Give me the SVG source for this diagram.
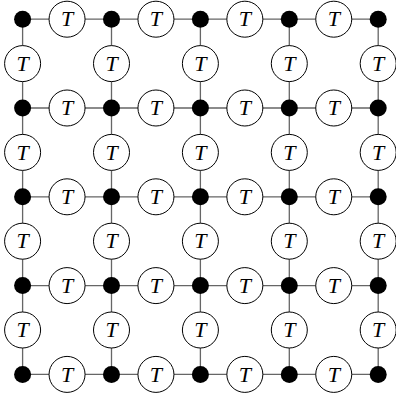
<svg xmlns="http://www.w3.org/2000/svg" width="396" height="399" viewBox="0 0 396 399">
<style>
.ln{stroke:#666;stroke-width:1.3;fill:none}
.dot{fill:#000}
.t circle{fill:#fff;stroke:#000;stroke-width:1}
.t text{font-family:"Liberation Serif","DejaVu Serif",serif;font-style:italic;font-size:22px;text-anchor:middle}
</style>
<rect width="396" height="399" fill="#fff"/>
<g id="connectors" class="ln">
<path d="M22.6 19.2H378.2M22.6 108H378.2M22.6 196.8H378.2M22.6 285.6H378.2M22.6 374.4H378.2"/>
<path d="M22.6 19.2V374.4M111.5 19.2V374.4M200.4 19.2V374.4M289.3 19.2V374.4M378.2 19.2V374.4"/>
</g>
<g id="dots">
<circle id="v00" class="dot" cx="22.6" cy="19.2" r="8.5"/>
<circle id="v10" class="dot" cx="111.5" cy="19.2" r="8.5"/>
<circle id="v20" class="dot" cx="200.4" cy="19.2" r="8.5"/>
<circle id="v30" class="dot" cx="289.3" cy="19.2" r="8.5"/>
<circle id="v40" class="dot" cx="378.2" cy="19.2" r="8.5"/>
<circle id="v01" class="dot" cx="22.6" cy="108" r="8.5"/>
<circle id="v11" class="dot" cx="111.5" cy="108" r="8.5"/>
<circle id="v21" class="dot" cx="200.4" cy="108" r="8.5"/>
<circle id="v31" class="dot" cx="289.3" cy="108" r="8.5"/>
<circle id="v41" class="dot" cx="378.2" cy="108" r="8.5"/>
<circle id="v02" class="dot" cx="22.6" cy="196.8" r="8.5"/>
<circle id="v12" class="dot" cx="111.5" cy="196.8" r="8.5"/>
<circle id="v22" class="dot" cx="200.4" cy="196.8" r="8.5"/>
<circle id="v32" class="dot" cx="289.3" cy="196.8" r="8.5"/>
<circle id="v42" class="dot" cx="378.2" cy="196.8" r="8.5"/>
<circle id="v03" class="dot" cx="22.6" cy="285.6" r="8.5"/>
<circle id="v13" class="dot" cx="111.5" cy="285.6" r="8.5"/>
<circle id="v23" class="dot" cx="200.4" cy="285.6" r="8.5"/>
<circle id="v33" class="dot" cx="289.3" cy="285.6" r="8.5"/>
<circle id="v43" class="dot" cx="378.2" cy="285.6" r="8.5"/>
<circle id="v04" class="dot" cx="22.6" cy="374.4" r="8.5"/>
<circle id="v14" class="dot" cx="111.5" cy="374.4" r="8.5"/>
<circle id="v24" class="dot" cx="200.4" cy="374.4" r="8.5"/>
<circle id="v34" class="dot" cx="289.3" cy="374.4" r="8.5"/>
<circle id="v44" class="dot" cx="378.2" cy="374.4" r="8.5"/>
</g>
<g id="h-tensors">
<g id="h00" class="t"><circle cx="67.05" cy="19.2" r="18"/><text x="67.05" y="26.3">T</text></g>
<g id="h10" class="t"><circle cx="155.95" cy="19.2" r="18"/><text x="155.95" y="26.3">T</text></g>
<g id="h20" class="t"><circle cx="244.85" cy="19.2" r="18"/><text x="244.85" y="26.3">T</text></g>
<g id="h30" class="t"><circle cx="333.75" cy="19.2" r="18"/><text x="333.75" y="26.3">T</text></g>
<g id="h01" class="t"><circle cx="67.05" cy="108" r="18"/><text x="67.05" y="115.1">T</text></g>
<g id="h11" class="t"><circle cx="155.95" cy="108" r="18"/><text x="155.95" y="115.1">T</text></g>
<g id="h21" class="t"><circle cx="244.85" cy="108" r="18"/><text x="244.85" y="115.1">T</text></g>
<g id="h31" class="t"><circle cx="333.75" cy="108" r="18"/><text x="333.75" y="115.1">T</text></g>
<g id="h02" class="t"><circle cx="67.05" cy="196.8" r="18"/><text x="67.05" y="203.9">T</text></g>
<g id="h12" class="t"><circle cx="155.95" cy="196.8" r="18"/><text x="155.95" y="203.9">T</text></g>
<g id="h22" class="t"><circle cx="244.85" cy="196.8" r="18"/><text x="244.85" y="203.9">T</text></g>
<g id="h32" class="t"><circle cx="333.75" cy="196.8" r="18"/><text x="333.75" y="203.9">T</text></g>
<g id="h03" class="t"><circle cx="67.05" cy="285.6" r="18"/><text x="67.05" y="292.7">T</text></g>
<g id="h13" class="t"><circle cx="155.95" cy="285.6" r="18"/><text x="155.95" y="292.7">T</text></g>
<g id="h23" class="t"><circle cx="244.85" cy="285.6" r="18"/><text x="244.85" y="292.7">T</text></g>
<g id="h33" class="t"><circle cx="333.75" cy="285.6" r="18"/><text x="333.75" y="292.7">T</text></g>
<g id="h04" class="t"><circle cx="67.05" cy="374.4" r="18"/><text x="67.05" y="381.5">T</text></g>
<g id="h14" class="t"><circle cx="155.95" cy="374.4" r="18"/><text x="155.95" y="381.5">T</text></g>
<g id="h24" class="t"><circle cx="244.85" cy="374.4" r="18"/><text x="244.85" y="381.5">T</text></g>
<g id="h34" class="t"><circle cx="333.75" cy="374.4" r="18"/><text x="333.75" y="381.5">T</text></g>
</g>
<g id="v-tensors">
<g id="t00" class="t"><circle cx="22.6" cy="63.6" r="18"/><text x="22.6" y="70.7">T</text></g>
<g id="t10" class="t"><circle cx="111.5" cy="63.6" r="18"/><text x="111.5" y="70.7">T</text></g>
<g id="t20" class="t"><circle cx="200.4" cy="63.6" r="18"/><text x="200.4" y="70.7">T</text></g>
<g id="t30" class="t"><circle cx="289.3" cy="63.6" r="18"/><text x="289.3" y="70.7">T</text></g>
<g id="t40" class="t"><circle cx="378.2" cy="63.6" r="18"/><text x="378.2" y="70.7">T</text></g>
<g id="t01" class="t"><circle cx="22.6" cy="152.4" r="18"/><text x="22.6" y="159.5">T</text></g>
<g id="t11" class="t"><circle cx="111.5" cy="152.4" r="18"/><text x="111.5" y="159.5">T</text></g>
<g id="t21" class="t"><circle cx="200.4" cy="152.4" r="18"/><text x="200.4" y="159.5">T</text></g>
<g id="t31" class="t"><circle cx="289.3" cy="152.4" r="18"/><text x="289.3" y="159.5">T</text></g>
<g id="t41" class="t"><circle cx="378.2" cy="152.4" r="18"/><text x="378.2" y="159.5">T</text></g>
<g id="t02" class="t"><circle cx="22.6" cy="241.2" r="18"/><text x="22.6" y="248.3">T</text></g>
<g id="t12" class="t"><circle cx="111.5" cy="241.2" r="18"/><text x="111.5" y="248.3">T</text></g>
<g id="t22" class="t"><circle cx="200.4" cy="241.2" r="18"/><text x="200.4" y="248.3">T</text></g>
<g id="t32" class="t"><circle cx="289.3" cy="241.2" r="18"/><text x="289.3" y="248.3">T</text></g>
<g id="t42" class="t"><circle cx="378.2" cy="241.2" r="18"/><text x="378.2" y="248.3">T</text></g>
<g id="t03" class="t"><circle cx="22.6" cy="330" r="18"/><text x="22.6" y="337.1">T</text></g>
<g id="t13" class="t"><circle cx="111.5" cy="330" r="18"/><text x="111.5" y="337.1">T</text></g>
<g id="t23" class="t"><circle cx="200.4" cy="330" r="18"/><text x="200.4" y="337.1">T</text></g>
<g id="t33" class="t"><circle cx="289.3" cy="330" r="18"/><text x="289.3" y="337.1">T</text></g>
<g id="t43" class="t"><circle cx="378.2" cy="330" r="18"/><text x="378.2" y="337.1">T</text></g>
</g>
</svg>
